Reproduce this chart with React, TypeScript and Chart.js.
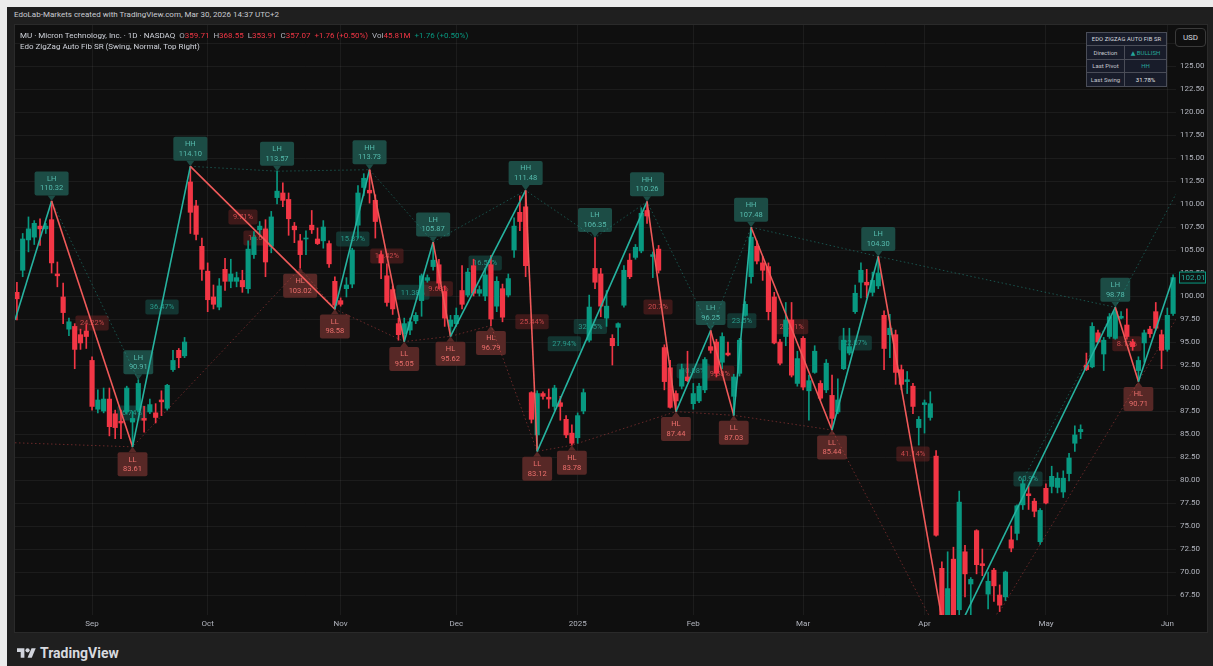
import React, { useEffect, useRef } from "react";
import { Chart, registerables } from "chart.js";

Chart.register(...registerables);

const FONT = "Roboto, 'Noto Sans', 'DejaVu Sans', sans-serif";
const GREEN = "#089981";
const RED = "#f23645";
const ZZ_TEAL = "#26b3a0";
const ZZ_RED = "#f05a5a";

// ---- candle data (daily bars, index 0 = 2024-08-14) ----
const opens = [
  100.4, 102.8, 106.1, 106.4, 107.6, 107.3, 108.3, 102.4, 99.9, 96.4,
  96.7, 95.8, 96.2, 93.0, 87.7, 87.5, 88.8, 87.2, 86.4, 87.4,
  86.3, 87.6, 86.7, 87.4, 87.3, 88.7, 87.8, 92.0, 94.1, 93.5,
  112.4, 109.8, 105.4, 102.7, 99.9, 98.8, 102.9, 101.6, 101.6, 101.7,
  100.8, 104.5, 107.2, 107.3, 105.4, 110.7, 111.2, 110.5, 107.6, 106.0,
  106.2, 107.7, 106.2, 106.0, 105.7, 101.6, 99.5, 100.8, 101.3, 107.7,
  111.8, 111.5, 110.4, 104.5, 102.2, 100.7, 97.0, 95.9, 96.3, 97.3,
  99.5, 101.7, 103.2, 103.4, 100.5, 96.7, 97.0, 100.6, 100.1, 103.3,
  100.3, 100.0, 103.4, 98.9, 100.8, 100.1, 105.0, 109.1, 109.7, 89.5,
  84.9, 89.4, 89.0, 88.0, 88.4, 86.6, 85.1, 84.6, 87.5, 95.2,
  103.0, 102.4, 97.6, 95.4, 96.6, 99.0, 103.9, 104.2, 104.9, 109.3,
  104.3, 105.1, 94.4, 92.2, 89.4, 90.2, 91.2, 88.3, 88.6, 89.8,
  94.5, 95.0, 92.8, 93.8, 89.1, 91.6, 97.9, 102.1, 105.4, 103.6,
  103.2, 99.9, 95.0, 95.6, 97.4, 90.5, 95.4, 89.7, 91.7, 90.5,
  89.8, 89.2, 87.4, 92.1, 93.8, 98.3, 101.5, 101.5, 100.4, 101.1,
  97.9, 95.8, 95.8, 92.0, 90.7, 90.2, 85.7, 88.2, 86.8, 82.6,
  70.4, 63.5, 71.4, 65.9, 72.2, 68.7, 74.5, 70.9, 67.6, 70.2,
  67.5, 67.3, 73.5, 74.2, 77.3, 78.5, 77.7, 73.3, 79.1, 79.3,
  79.2, 78.7, 80.7, 84.0, 85.25, 92.5, 92.3, 96.0, 93.7, 95.6,
  95.4, 97.6, 96.85, 95.0, 91.9, 94.9, 96.4, 98.3, 95.8, 94.2,
  98.1,
];
const highs = [
  101.5, 106.8, 108.6, 108.2, 108.4, 107.9, 110.32, 103.7, 101.4, 97.6,
  97.0, 96.4, 96.9, 93.4, 89.8, 90.0, 90.0, 87.6, 87.6, 90.2,
  87.5, 90.91, 88.0, 88.8, 88.3, 89.7, 90.4, 94.1, 94.3, 95.5,
  114.1, 110.4, 106.3, 103.6, 101.2, 101.9, 104.1, 104.0, 102.6, 102.8,
  106.0, 107.0, 108.1, 108.3, 109.2, 113.57, 112.3, 111.2, 108.0, 106.7,
  107.1, 109.3, 107.4, 108.2, 106.0, 102.1, 99.8, 102.0, 105.2, 112.0,
  113.3, 113.73, 111.0, 104.9, 103.5, 101.1, 97.6, 97.6, 97.6, 98.2,
  102.4, 102.3, 105.87, 104.0, 101.1, 97.9, 98.7, 103.3, 103.0, 104.0,
  101.1, 103.0, 104.4, 102.1, 101.3, 102.4, 108.5, 110.9, 111.48, 89.6,
  89.7, 89.6, 89.9, 90.3, 89.1, 87.0, 86.0, 87.3, 89.9, 100.1,
  106.35, 103.0, 100.6, 95.8, 97.1, 103.3, 104.6, 105.6, 109.6, 110.26,
  104.8, 105.5, 94.7, 93.0, 89.7, 92.6, 94.0, 90.5, 90.5, 93.3,
  96.25, 95.3, 96.0, 95.0, 91.5, 95.4, 99.4, 107.48, 106.0, 104.3,
  103.6, 100.4, 95.3, 99.3, 99.3, 94.0, 95.6, 91.4, 94.6, 90.8,
  93.1, 91.4, 91.0, 96.5, 96.5, 101.2, 103.6, 102.9, 102.6, 104.3,
  98.4, 98.0, 96.3, 92.5, 91.8, 90.5, 86.9, 88.7, 89.6, 83.2,
  71.1, 72.2, 72.7, 78.8, 72.9, 69.4, 74.6, 72.5, 70.0, 70.4,
  68.6, 70.1, 75.0, 77.3, 80.0, 79.3, 78.0, 76.9, 79.6, 81.5,
  80.8, 81.0, 82.9, 85.9, 86.0, 93.8, 97.1, 96.3, 95.5, 98.1,
  98.78, 98.3, 98.6, 95.3, 93.4, 96.3, 96.7, 99.3, 96.3, 98.7,
  102.3,
];
const lows = [
  97.4, 102.1, 104.8, 105.6, 105.5, 106.8, 102.5, 101.0, 97.0, 95.7,
  92.1, 94.2, 94.3, 87.6, 87.3, 87.3, 84.8, 84.5, 84.5, 87.2,
  83.61, 87.4, 85.2, 87.2, 86.2, 87.0, 87.6, 91.8, 92.2, 93.3,
  106.8, 106.1, 101.7, 98.3, 98.6, 98.5, 100.6, 100.9, 101.0, 100.4,
  100.3, 104.1, 106.7, 102.1, 104.7, 110.0, 109.7, 106.6, 105.8, 103.02,
  104.5, 106.8, 105.6, 105.2, 103.1, 98.58, 98.9, 99.9, 100.9, 106.3,
  110.9, 110.1, 106.3, 101.9, 98.9, 98.0, 95.2, 95.05, 95.8, 97.0,
  97.8, 101.5, 102.8, 100.8, 96.7, 95.62, 96.7, 98.6, 99.9, 100.0,
  100.0, 99.5, 96.79, 98.3, 97.2, 99.9, 104.2, 107.1, 102.1, 86.2,
  83.12, 88.8, 87.8, 87.6, 86.5, 84.6, 83.78, 84.0, 87.2, 95.0,
  100.8, 97.75, 96.7, 92.5, 94.6, 98.8, 101.9, 104.0, 104.7, 107.9,
  102.0, 102.5, 89.8, 87.8, 87.44, 89.9, 90.7, 87.7, 88.4, 89.5,
  93.8, 91.2, 92.1, 93.5, 87.03, 91.3, 97.8, 101.4, 103.5, 101.7,
  97.4, 94.8, 92.5, 94.6, 91.2, 90.2, 89.8, 86.5, 91.6, 88.7,
  89.5, 85.44, 87.2, 92.0, 93.6, 98.1, 99.8, 99.8, 100.0, 100.8,
  92.0, 93.3, 90.4, 89.8, 89.4, 87.2, 83.8, 85.1, 86.5, 73.9,
  63.0, 61.39, 63.8, 64.0, 67.3, 65.0, 69.8, 69.6, 66.0, 66.8,
  65.7, 66.9, 72.2, 73.5, 76.8, 76.8, 76.0, 73.0, 77.4, 78.6,
  78.6, 78.1, 79.9, 83.1, 84.5, 91.9, 92.2, 94.9, 91.9, 95.4,
  95.3, 97.5, 95.3, 94.1, 90.71, 92.8, 95.5, 96.3, 92.1, 94.0,
  97.9,
];
const closes = [
  99.7, 106.2, 107.3, 107.9, 107.3, 107.6, 103.6, 102.2, 98.2, 97.2,
  94.2, 94.9, 95.6, 88.0, 88.7, 88.8, 85.8, 85.7, 86.2, 90.0,
  86.7, 90.5, 86.5, 88.2, 86.8, 88.5, 90.3, 93.0, 93.3, 95.0,
  109.1, 106.7, 102.9, 99.6, 99.1, 101.1, 101.6, 102.4, 102.0, 101.0,
  105.1, 106.4, 107.6, 103.7, 108.6, 111.4, 110.4, 108.4, 107.2, 104.5,
  106.3, 107.2, 105.7, 107.5, 103.5, 99.0, 99.1, 101.2, 105.0, 111.2,
  112.8, 111.2, 108.1, 103.6, 99.3, 98.6, 95.8, 97.0, 97.2, 97.9,
  102.2, 102.0, 103.9, 101.4, 97.6, 97.4, 97.9, 99.1, 102.6, 100.3,
  100.7, 102.3, 97.5, 101.6, 97.7, 101.9, 107.6, 108.1, 103.3, 86.6,
  89.4, 89.1, 88.8, 90.0, 88.0, 84.9, 84.0, 87.0, 89.5, 98.8,
  101.5, 98.9, 98.9, 94.6, 97.0, 102.8, 102.1, 105.3, 109.0, 108.7,
  104.5, 102.8, 90.7, 87.9, 88.6, 92.0, 90.8, 89.4, 90.2, 93.1,
  94.1, 91.6, 95.6, 93.6, 91.2, 95.2, 99.1, 106.4, 103.8, 102.8,
  98.3, 94.9, 92.7, 97.4, 91.4, 93.2, 90.1, 90.8, 94.0, 88.9,
  92.7, 86.7, 88.7, 95.2, 94.5, 100.3, 102.8, 101.2, 101.7, 102.5,
  94.3, 96.5, 91.7, 90.4, 90.9, 88.0, 86.6, 88.4, 88.3, 74.0,
  64.0, 68.2, 64.5, 77.6, 69.8, 69.2, 70.8, 70.7, 69.0, 68.5,
  66.4, 70.0, 72.6, 77.2, 79.6, 78.3, 76.6, 76.7, 77.5, 80.4,
  80.2, 80.2, 82.4, 84.9, 85.5, 92.0, 96.7, 95.0, 95.2, 97.75,
  98.3, 97.8, 95.6, 94.5, 93.0, 96.0, 95.9, 96.5, 94.1, 97.9,
  102.01,
];

// ---- axes ----
const monthTickIndex = [13, 33, 56, 76, 97, 117, 136, 157, 178, 199];
const monthTickLabels = ["Sep", "Oct", "Nov", "Dec", "2025", "Feb", "Mar", "Apr", "May", "Jun"];
const priceTicks = [
  67.5, 70, 72.5, 75, 77.5, 80, 82.5, 85, 87.5, 90, 92.5, 95, 97.5, 100,
  102.5, 105, 107.5, 110, 112.5, 115, 117.5, 120, 122.5, 125, 127.5,
];
const X_MIN = -0.33;
const X_MAX = 200.5;
const Y_MIN = 65.33;
const Y_MAX = 129.46;

// ---- zigzag swing line ----
const zigzagIdx = [-0.33, 6, 20, 30, 55, 61, 67, 72, 75, 88, 90, 109, 114, 120, 124, 127, 141, 149, 161, 190, 194, 200];
const zigzagPrice = [97.4, 110.32, 83.61, 114.1, 98.58, 113.73, 95.05, 105.87, 95.62, 111.48, 83.12, 110.26, 87.44, 96.25, 87.03, 107.48, 85.44, 104.3, 61.39, 98.78, 90.71, 102.01];

// ---- dotted S/R lines ----
const highLineAIdx = [6, 21];
const highLineAPrice = [110.32, 90.91];
const highLineBIdx = [30, 45, 61, 72, 88, 100, 109, 120, 127, 149, 190];
const highLineBPrice = [114.1, 113.57, 113.73, 105.87, 111.48, 106.35, 110.26, 96.25, 107.48, 104.3, 98.78];
const highRayIdx = [174, 190];
const highRayPrice = [80.0, 98.78];
const lowLineIdx = [-0.33, 20, 49, 55, 67, 75, 82, 90, 96, 114, 124, 141, 161, 170];
const lowLinePrice = [84.05, 83.61, 103.02, 98.58, 95.05, 95.62, 96.79, 83.12, 83.78, 87.44, 87.03, 85.44, 61.39, 65.7];
const lowRayIdx = [170, 194];
const lowRayPrice = [65.7, 90.71];

// ---- pivot labels ----
const highPivotIdx = [6, 21, 30, 45, 61, 72, 88, 100, 109, 120, 127, 149, 190];
const highPivotPrice = [110.32, 90.91, 114.1, 113.57, 113.73, 105.87, 111.48, 106.35, 110.26, 96.25, 107.48, 104.3, 98.78];
const highPivotTag = ["LH", "LH", "HH", "LH", "HH", "LH", "HH", "LH", "HH", "LH", "HH", "LH", "LH"];
const lowPivotIdx = [20, 49, 55, 67, 75, 82, 90, 96, 114, 124, 141, 194];
const lowPivotPrice = [83.61, 103.02, 98.58, 95.05, 95.62, 96.79, 83.12, 83.78, 87.44, 87.03, 85.44, 90.71];
const lowPivotTag = ["LL", "HL", "LL", "LL", "HL", "HL", "LL", "HL", "HL", "LL", "LL", "HL"];

// ---- swing percentage labels ----
const pctIdx = [13.0, 25.1, 19.9, 39.1, 41.7, 58.1, 64.0, 68.5, 72.9, 81.0, 89.1, 94.7, 99.2, 110.9, 117.0, 121.6, 125.4, 134.0, 145.0, 155.0, 174.9, 192.0];
const pctPrice = [97.07, 98.8, 87.28, 108.6, 106.3, 106.2, 104.35, 100.4, 100.8, 103.6, 97.2, 94.8, 96.7, 98.8, 91.85, 91.6, 97.3, 96.66, 94.9, 82.83, 80.1, 94.8];
const pctText = ["24.22%", "36.47%", "6.74%", "9.71%", "13.6%", "15.37%", "16.42%", "11.38%", "9.68%", "16.59%", "25.44%", "27.94%", "32.65%", "20.7%", "10.08%", "9.58%", "23.5%", "20.51%", "22.07%", "41.14%", "60.9%", "8.17%"];
const pctUp = [false, true, true, false, false, true, false, true, false, true, false, true, true, false, true, false, true, false, true, false, true, false];

const pts = (xs: number[], ys: number[]) => xs.map((x, i) => ({ x, y: ys[i] }));

const extendRay = (xs: number[], ys: number[]) => {
  const slope = (ys[1] - ys[0]) / (xs[1] - xs[0]);
  return [...pts(xs, ys), { x: X_MAX, y: ys[1] + slope * (X_MAX - xs[1]) }];
};

const labelPlugin = {
  id: "zzLabels",
  beforeDatasetsDraw(chart: any) {
    const { ctx, chartArea, scales } = chart;
    const xs = scales.x;
    const ys = scales.y;
    ctx.save();
    ctx.beginPath();
    ctx.rect(chartArea.left, chartArea.top, chartArea.right - chartArea.left, chartArea.bottom - chartArea.top);
    ctx.clip();
    ctx.textAlign = "center";
    ctx.textBaseline = "middle";
    ctx.font = `7.5px ${FONT}`;

    pctText.forEach((t, i) => {
      const px = xs.getPixelForValue(pctIdx[i]);
      const py = ys.getPixelForValue(pctPrice[i]);
      const w = ctx.measureText(t).width + 9;
      const h = 15;
      ctx.fillStyle = pctUp[i] ? "rgba(24,86,78,0.55)" : "rgba(110,36,36,0.5)";
      ctx.beginPath();
      ctx.roundRect(px - w / 2, py - h / 2, w, h, 2);
      ctx.fill();
      ctx.fillStyle = pctUp[i] ? "#2a9a8b" : "#c9494c";
      ctx.fillText(t, px, py + 0.5);
    });

    const drawPivot = (idx: number, price: number, tag: string, isHigh: boolean) => {
      const px = xs.getPixelForValue(idx);
      const py = ys.getPixelForValue(price);
      const p = price.toFixed(2);
      const w = Math.max(ctx.measureText(p).width, ctx.measureText(tag).width) + 11;
      const h = 24;
      const gap = 5.5;
      const top = isHigh ? py - gap - h : py + gap;
      ctx.fillStyle = isHigh ? "#1c4c45" : "#572826";
      ctx.beginPath();
      ctx.roundRect(px - w / 2, top, w, h, 2);
      ctx.fill();
      ctx.beginPath();
      if (isHigh) {
        ctx.moveTo(px - 4, top + h);
        ctx.lineTo(px + 4, top + h);
        ctx.lineTo(px, py);
      } else {
        ctx.moveTo(px - 4, top);
        ctx.lineTo(px + 4, top);
        ctx.lineTo(px, py);
      }
      ctx.closePath();
      ctx.fill();
      ctx.fillStyle = isHigh ? "#56bcae" : "#ec6f6c";
      ctx.fillText(tag, px, top + 7.5);
      ctx.fillText(p, px, top + 17);
    };
    highPivotIdx.forEach((v, i) => drawPivot(v, highPivotPrice[i], highPivotTag[i], true));
    lowPivotIdx.forEach((v, i) => drawPivot(v, lowPivotPrice[i], lowPivotTag[i], false));
    ctx.restore();
  },
};

const lastPricePlugin = {
  id: "lastPrice",
  afterDraw(chart: any) {
    const { ctx, chartArea, scales } = chart;
    const v = closes[closes.length - 1];
    const py = scales.y.getPixelForValue(v);
    const x0 = chartArea.right + 3;
    ctx.save();
    ctx.fillStyle = "#0f1614";
    ctx.fillRect(x0, py - 6, 27, 12);
    ctx.strokeStyle = GREEN;
    ctx.lineWidth = 1;
    ctx.strokeRect(x0 + 0.5, py - 5.5, 26, 11);
    ctx.fillStyle = "#26a69a";
    ctx.font = `8px ${FONT}`;
    ctx.textAlign = "left";
    ctx.textBaseline = "middle";
    ctx.fillText(v.toFixed(2), x0 + 2, py + 0.5);
    ctx.restore();
  },
};

function TVLogo() {
  return (
    <svg width="19" height="15" viewBox="0 0 36 28" style={{ display: "block" }}>
      <path d="M14 22H7V11H0V4h14v18z" fill="#d1d4dc" />
      <circle cx="20" cy="8" r="4" fill="#d1d4dc" />
      <path d="M28 22h-8l7.5-18h8L28 22z" fill="#d1d4dc" />
    </svg>
  );
}

export default function App() {
  const canvasRef = useRef<HTMLCanvasElement | null>(null);

  useEffect(() => {
    const canvas = canvasRef.current;
    if (!canvas) return;
    Chart.defaults.font.family = FONT;
    const colors = opens.map((o, i) => (closes[i] >= o ? GREEN : RED));
    const bodyData = opens.map((o, i) => ({ x: i, y: [o, closes[i]] }));
    const wickData = opens.map((_, i) => ({ x: i, y: [lows[i], highs[i]] }));

    const dotted = (data: any[], color: string) => ({
      type: "line" as const,
      data,
      borderColor: color,
      borderWidth: 1,
      borderDash: [1.5, 2.5],
      pointRadius: 0,
      tension: 0,
      order: 5,
    });

    const chart = new Chart(canvas, {
      type: "bar",
      data: {
        datasets: [
          {
            type: "line",
            data: pts(zigzagIdx, zigzagPrice),
            borderColor: ZZ_TEAL,
            borderWidth: 1.6,
            pointRadius: 0,
            tension: 0,
            order: 0,
            segment: {
              borderColor: (c: any) => (c.p1.parsed.y > c.p0.parsed.y ? ZZ_TEAL : ZZ_RED),
            },
          } as any,
          {
            type: "bar",
            data: bodyData,
            backgroundColor: colors,
            barThickness: 4.5,
            minBarLength: 1,
            grouped: false,
            borderWidth: 0,
            order: 2,
          } as any,
          {
            type: "bar",
            data: wickData,
            backgroundColor: colors,
            barThickness: 1,
            grouped: false,
            borderWidth: 0,
            order: 3,
          } as any,
          dotted(pts(highLineAIdx, highLineAPrice), "rgba(38,166,154,0.45)") as any,
          dotted(pts(highLineBIdx, highLineBPrice), "rgba(38,166,154,0.45)") as any,
          dotted(extendRay(highRayIdx, highRayPrice), "rgba(38,166,154,0.45)") as any,
          dotted(pts(lowLineIdx, lowLinePrice), "rgba(240,80,80,0.4)") as any,
          dotted(extendRay(lowRayIdx, lowRayPrice), "rgba(240,80,80,0.4)") as any,
        ],
      },
      options: {
        responsive: false,
        animation: false,
        devicePixelRatio: 1,
        layout: { padding: 0 },
        plugins: { legend: { display: false }, tooltip: { enabled: false } },
        scales: {
          x: {
            type: "linear",
            min: X_MIN,
            max: X_MAX,
            offset: false,
            grid: { color: "rgba(242,242,242,0.06)", drawTicks: false, offset: false },
            border: { display: false },
            ticks: {
              autoSkip: false,
              maxRotation: 0,
              padding: 4,
              color: "#b2b5be",
              font: { size: 8, family: FONT },
              callback: (_v: any, i: number) => monthTickLabels[i],
            },
            afterBuildTicks: (s: any) => {
              s.ticks = monthTickIndex.map((v) => ({ value: v }));
            },
            afterFit: (s: any) => {
              s.height = 17;
              s.paddingLeft = 0;
              s.paddingRight = 0;
            },
          },
          y: {
            type: "linear",
            position: "right",
            min: Y_MIN,
            max: Y_MAX,
            grid: { color: "rgba(242,242,242,0.06)", drawTicks: false },
            border: { display: false },
            ticks: {
              padding: 4,
              color: "#b2b5be",
              font: { size: 8, family: FONT },
              callback: (v: any) => (Number(v) > 126 ? "" : Number(v).toFixed(2)),
            },
            afterBuildTicks: (s: any) => {
              s.ticks = priceTicks.map((v) => ({ value: v }));
            },
            afterFit: (s: any) => {
              s.width = 31;
              s.paddingTop = 0;
              s.paddingBottom = 0;
            },
          },
        },
      } as any,
      plugins: [labelPlugin, lastPricePlugin],
    });
    return () => chart.destroy();
  }, []);

  const gray = "#b2b5be";
  const txt = "#d1d4dc";
  const red = RED;

  const cell: React.CSSProperties = {
    display: "flex",
    alignItems: "center",
    justifyContent: "center",
    borderTop: "1px solid #4a4d58",
    height: 12.5,
  };

  return (
    <div
      style={{
        position: "fixed",
        left: 0,
        top: 0,
        width: 1213,
        height: 666,
        background: "#ececec",
        overflow: "hidden",
        fontFamily: FONT,
      }}
    >
      <div style={{ position: "absolute", left: 7, top: 7, width: 1206, height: 659, background: "#1f1f1f" }} />
      <div
        style={{
          position: "absolute",
          left: 14,
          top: 9,
          height: 12,
          lineHeight: "12px",
          fontSize: 8,
          color: "#c9cbd1",
          whiteSpace: "nowrap",
        }}
      >
        EdoLab-Markets created with TradingView.com, Mar 30, 2026 14:37 UTC+2
      </div>
      <div
        style={{
          position: "absolute",
          left: 14,
          top: 24,
          width: 1192,
          height: 607,
          border: "1px solid #2a2a2a",
          background: "#0f0f0f",
        }}
      >
        <canvas ref={canvasRef} width={1192} height={607} style={{ display: "block", width: 1192, height: 607 }} />
      </div>

      {/* legend */}
      <div
        style={{
          position: "absolute",
          left: 20,
          top: 30,
          lineHeight: "11px",
          fontSize: 8,
          color: txt,
          whiteSpace: "nowrap",
        }}
      >
        <div>
          <span>MU · Micron Technology, Inc. · 1D · NASDAQ</span>
          <span style={{ marginLeft: 4, color: gray }}>O</span>
          <span style={{ color: red }}>359.71</span>
          <span style={{ marginLeft: 4, color: gray }}>H</span>
          <span style={{ color: red }}>368.55</span>
          <span style={{ marginLeft: 4, color: gray }}>L</span>
          <span style={{ color: red }}>353.91</span>
          <span style={{ marginLeft: 4, color: gray }}>C</span>
          <span style={{ color: red }}>357.07</span>
          <span style={{ marginLeft: 4, color: red }}>+1.76 (+0.50%)</span>
          <span style={{ marginLeft: 4, color: gray }}>Vol</span>
          <span style={{ color: red }}>45.81M</span>
          <span style={{ marginLeft: 4, color: GREEN }}>+1.76 (+0.50%)</span>
        </div>
        <div>Edo ZigZag Auto Fib SR (Swing, Normal, Top Right)</div>
      </div>

      {/* info table */}
      <div
        style={{
          position: "absolute",
          left: 1086,
          top: 32,
          width: 79,
          border: "1px solid #4a4d58",
          background: "#181c2a",
          fontSize: 6,
          color: "#d6d8de",
          whiteSpace: "nowrap",
        }}
      >
        <div style={{ ...cell, borderTop: "none", height: 12, fontSize: 5.8, letterSpacing: 0.1 }}>EDO ZIGZAG AUTO FIB SR</div>
        {[
          ["Direction", "▲  BULLISH", "#26a69a"],
          ["Last Pivot", "HH", "#26a69a"],
          ["Last Swing", "31.78%", "#e6e7ea"],
        ].map(([a, b, c]) => (
          <div key={a} style={{ display: "flex" }}>
            <div style={{ ...cell, width: 37, borderRight: "1px solid #4a4d58", color: "#c4c6cd" }}>{a}</div>
            <div style={{ ...cell, flex: 1, color: c }}>{b}</div>
          </div>
        ))}
      </div>

      {/* currency button */}
      <div
        style={{
          position: "absolute",
          left: 1175,
          top: 28,
          width: 29,
          height: 17,
          border: "1px solid #3a3a3a",
          borderRadius: 4,
          background: "#0f0f0f",
          color: txt,
          fontSize: 8,
          display: "flex",
          alignItems: "center",
          justifyContent: "center",
        }}
      >
        USD
      </div>

      {/* footer logo */}
      <div style={{ position: "absolute", left: 17, top: 645, display: "flex", alignItems: "center" }}>
        <TVLogo />
        <span style={{ marginLeft: 4, fontSize: 14, fontWeight: 700, color: "#d8dadf", lineHeight: "16px" }}>TradingView</span>
      </div>
    </div>
  );
}
